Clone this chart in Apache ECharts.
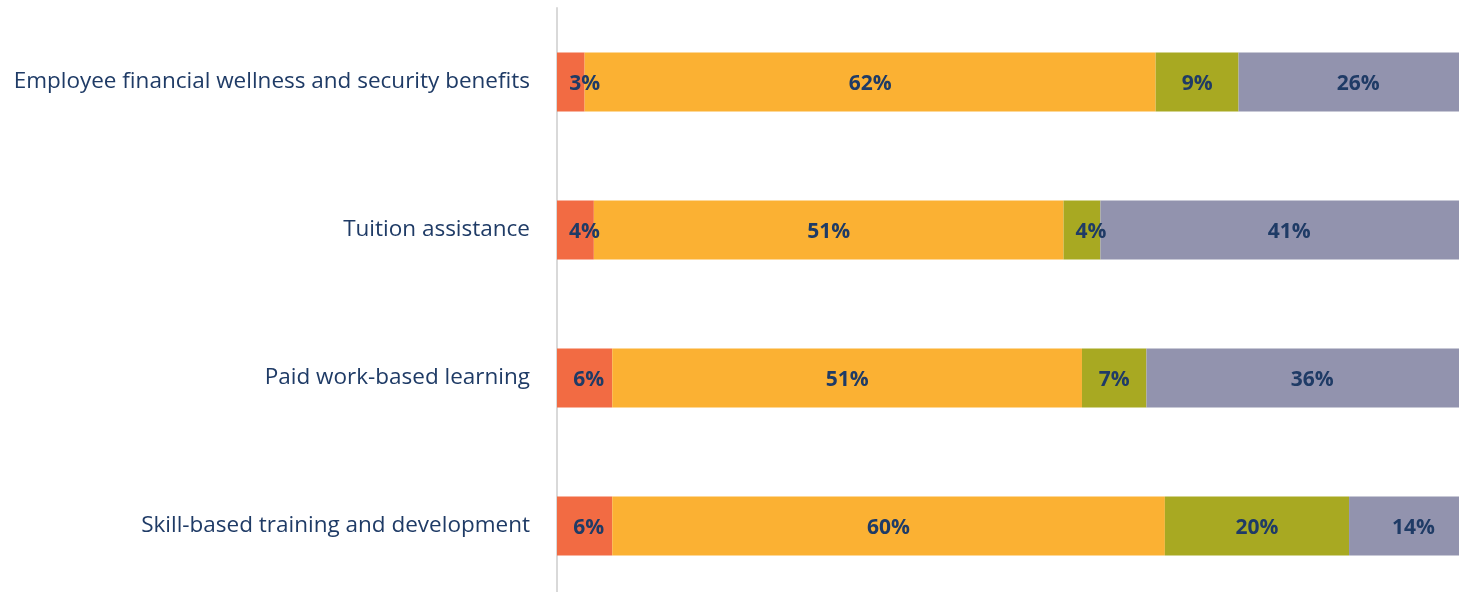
<!DOCTYPE html>
<html>
<head>
<meta charset="utf-8">
<script src="https://cdn.jsdelivr.net/npm/echarts@6/dist/echarts.min.js"></script>
<style>
  html, body { margin: 0; padding: 0; background: #ffffff; overflow: hidden; }
  /* the plot runs slightly past the right and bottom edges of the window */
  #chart { width: 1478px; height: 600px; }
</style>
</head>
<body>
<div id="chart"></div>
<script>
// Benefit categories, top to bottom
const categories = [
  'Employee financial wellness and security benefits',
  'Tuition assistance',
  'Paid work-based learning',
  'Skill-based training and development'
];

// Share of responses (%) per segment, in category order
const seriesA = [3, 4, 6, 6];
const seriesB = [62, 51, 51, 60];
const seriesC = [9, 4, 7, 20];
const seriesD = [26, 41, 36, 14];

const colors = ['#F26B43', '#FBB133', '#A8A922', '#9293AE'];
const navy = '#1F3B66';

// Small segments: nudge the label to the right so it stays readable
function labelNudge(v) {
  if (v <= 3) return 14;
  if (v <= 4) return 9;
  if (v <= 6) return 4;
  return 0;
}

function makeSeries(name, values, color) {
  return {
    name: name,
    type: 'bar',
    stack: 'total',
    barWidth: 59,
    itemStyle: { color: color },
    data: values.map(v => ({
      value: v,
      label: { offset: [labelNudge(v), 2] }
    })),
    label: {
      show: true,
      position: 'inside',
      formatter: p => p.value + '%',
      color: navy,
      fontFamily: 'Open Sans',
      fontWeight: 'bold',
      fontSize: 21
    }
  };
}

const chart = echarts.init(document.getElementById('chart'), null, { renderer: 'canvas' });
chart.setOption({
  animation: false,
  grid: { left: 557, top: 8, right: 0, bottom: 0 },
  xAxis: {
    type: 'value', min: 0, max: 100, show: false
  },
  yAxis: {
    type: 'category',
    inverse: true,
    data: categories,
    offset: 1,
    axisLine: { show: true, lineStyle: { color: '#D9D9D9', width: 2 } },
    axisTick: { show: false },
    splitLine: { show: false },
    axisLabel: {
      margin: 26,
      padding: [6, 0, 0, 0],
      color: navy,
      fontFamily: 'Open Sans',
      fontSize: 22.5
    }
  },
  series: [
    makeSeries('A', seriesA, colors[0]),
    makeSeries('B', seriesB, colors[1]),
    makeSeries('C', seriesC, colors[2]),
    makeSeries('D', seriesD, colors[3])
  ]
});
</script>
</body>
</html>
